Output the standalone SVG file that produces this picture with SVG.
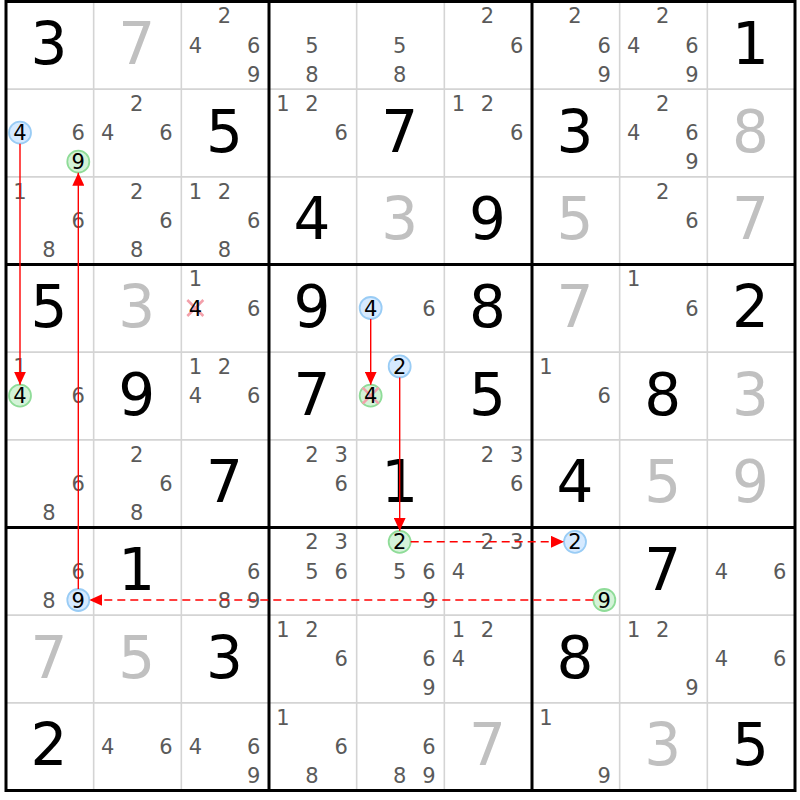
<svg xmlns="http://www.w3.org/2000/svg" width="800" height="800" viewBox="0 0 800 800">
<style>
text{font-family:"DejaVu Sans","Liberation Sans",sans-serif}
.g{font-size:58px;fill:#000;text-anchor:middle}
.s{font-size:58px;fill:#c0c0c0;text-anchor:middle}
.c{font-size:21px;fill:#5a5a5a;text-anchor:middle}
.k{font-size:21px;fill:#000;text-anchor:middle}
.thin{stroke:#d4d4d4;stroke-width:1.6;fill:none}
.thick{stroke:#000;stroke-width:3;fill:none}
.cb{fill:#d6eaff;stroke:#99ccf5;stroke-width:1.8}
.cg{fill:#d4f3d8;stroke:#8fdc98;stroke-width:1.8}
.x{stroke:#f3a0aa;stroke-width:2.6}
.ln{stroke:#ff0000;stroke-width:1.4;fill:none}
.dash{stroke-dasharray:8,5}
</style>
<defs>
<marker id="ah" markerUnits="userSpaceOnUse" markerWidth="14" markerHeight="12" refX="13" refY="6" orient="auto">
<path d="M0,0 L13,6 L0,12 z" fill="#ff0000"/>
</marker>
</defs>
<rect x="0" y="0" width="800" height="800" fill="#fff"/>
<g id="grid">
<path class="thin" d="M93.67,1.5V790.5M181.33,1.5V790.5M356.67,1.5V790.5M444.33,1.5V790.5M619.67,1.5V790.5M707.33,1.5V790.5M6,89.17H795M6,176.83H795M6,352.17H795M6,439.83H795M6,615.17H795M6,702.83H795"/>
<path class="thick" d="M269,1.5V790.5M532,1.5V790.5M6,264.5H795M6,527.5H795"/>
<rect class="thick" x="6" y="1.5" width="789" height="789"/>
</g>
<g id="cells">
<!-- row 0 -->
<g id="r0c0" transform="translate(6,1.5)"><text class="g" x="43" y="62.5">3</text></g>
<g id="r0c1" transform="translate(93.67,1.5)"><text class="s" x="43" y="62.5">7</text></g>
<g id="r0c2" transform="translate(181.33,1.5)"><text class="c" x="43" y="21.8">2</text><text class="c" x="14" y="51">4</text><text class="c" x="72.3" y="51">6</text><text class="c" x="72.3" y="80">9</text></g>
<g id="r0c3" transform="translate(269,1.5)"><text class="c" x="43" y="51">5</text><text class="c" x="43" y="80">8</text></g>
<g id="r0c4" transform="translate(356.67,1.5)"><text class="c" x="43" y="51">5</text><text class="c" x="43" y="80">8</text></g>
<g id="r0c5" transform="translate(444.33,1.5)"><text class="c" x="43" y="21.8">2</text><text class="c" x="72.3" y="51">6</text></g>
<g id="r0c6" transform="translate(532,1.5)"><text class="c" x="43" y="21.8">2</text><text class="c" x="72.3" y="51">6</text><text class="c" x="72.3" y="80">9</text></g>
<g id="r0c7" transform="translate(619.67,1.5)"><text class="c" x="43" y="21.8">2</text><text class="c" x="14" y="51">4</text><text class="c" x="72.3" y="51">6</text><text class="c" x="72.3" y="80">9</text></g>
<g id="r0c8" transform="translate(707.33,1.5)"><text class="g" x="43" y="62.5">1</text></g>
<!-- row 1 -->
<g id="r1c0" transform="translate(6,89.17)"><circle class="cb" cx="14" cy="43.5" r="11"/><text class="k" x="14" y="51">4</text><text class="c" x="72.3" y="51">6</text><circle class="cg" cx="72.3" cy="72.5" r="11"/><text class="k" x="72.3" y="80">9</text></g>
<g id="r1c1" transform="translate(93.67,89.17)"><text class="c" x="43" y="21.8">2</text><text class="c" x="14" y="51">4</text><text class="c" x="72.3" y="51">6</text></g>
<g id="r1c2" transform="translate(181.33,89.17)"><text class="g" x="43" y="62.5">5</text></g>
<g id="r1c3" transform="translate(269,89.17)"><text class="c" x="14" y="21.8">1</text><text class="c" x="43" y="21.8">2</text><text class="c" x="72.3" y="51">6</text></g>
<g id="r1c4" transform="translate(356.67,89.17)"><text class="g" x="43" y="62.5">7</text></g>
<g id="r1c5" transform="translate(444.33,89.17)"><text class="c" x="14" y="21.8">1</text><text class="c" x="43" y="21.8">2</text><text class="c" x="72.3" y="51">6</text></g>
<g id="r1c6" transform="translate(532,89.17)"><text class="g" x="43" y="62.5">3</text></g>
<g id="r1c7" transform="translate(619.67,89.17)"><text class="c" x="43" y="21.8">2</text><text class="c" x="14" y="51">4</text><text class="c" x="72.3" y="51">6</text><text class="c" x="72.3" y="80">9</text></g>
<g id="r1c8" transform="translate(707.33,89.17)"><text class="s" x="43" y="62.5">8</text></g>
<!-- row 2 -->
<g id="r2c0" transform="translate(6,176.83)"><text class="c" x="14" y="21.8">1</text><text class="c" x="72.3" y="51">6</text><text class="c" x="43" y="80">8</text></g>
<g id="r2c1" transform="translate(93.67,176.83)"><text class="c" x="43" y="21.8">2</text><text class="c" x="72.3" y="51">6</text><text class="c" x="43" y="80">8</text></g>
<g id="r2c2" transform="translate(181.33,176.83)"><text class="c" x="14" y="21.8">1</text><text class="c" x="43" y="21.8">2</text><text class="c" x="72.3" y="51">6</text><text class="c" x="43" y="80">8</text></g>
<g id="r2c3" transform="translate(269,176.83)"><text class="g" x="43" y="62.5">4</text></g>
<g id="r2c4" transform="translate(356.67,176.83)"><text class="s" x="43" y="62.5">3</text></g>
<g id="r2c5" transform="translate(444.33,176.83)"><text class="g" x="43" y="62.5">9</text></g>
<g id="r2c6" transform="translate(532,176.83)"><text class="s" x="43" y="62.5">5</text></g>
<g id="r2c7" transform="translate(619.67,176.83)"><text class="c" x="43" y="21.8">2</text><text class="c" x="72.3" y="51">6</text></g>
<g id="r2c8" transform="translate(707.33,176.83)"><text class="s" x="43" y="62.5">7</text></g>
<!-- row 3 -->
<g id="r3c0" transform="translate(6,264.5)"><text class="g" x="43" y="62.5">5</text></g>
<g id="r3c1" transform="translate(93.67,264.5)"><text class="s" x="43" y="62.5">3</text></g>
<g id="r3c2" transform="translate(181.33,264.5)"><text class="c" x="14" y="21.8">1</text><path class="x" d="M6,35.5L22,51.5M22,35.5L6,51.5"/><text class="k" x="14" y="51">4</text><text class="c" x="72.3" y="51">6</text></g>
<g id="r3c3" transform="translate(269,264.5)"><text class="g" x="43" y="62.5">9</text></g>
<g id="r3c4" transform="translate(356.67,264.5)"><circle class="cb" cx="14" cy="43.5" r="11"/><text class="k" x="14" y="51">4</text><text class="c" x="72.3" y="51">6</text></g>
<g id="r3c5" transform="translate(444.33,264.5)"><text class="g" x="43" y="62.5">8</text></g>
<g id="r3c6" transform="translate(532,264.5)"><text class="s" x="43" y="62.5">7</text></g>
<g id="r3c7" transform="translate(619.67,264.5)"><text class="c" x="14" y="21.8">1</text><text class="c" x="72.3" y="51">6</text></g>
<g id="r3c8" transform="translate(707.33,264.5)"><text class="g" x="43" y="62.5">2</text></g>
<!-- row 4 -->
<g id="r4c0" transform="translate(6,352.17)"><text class="c" x="14" y="21.8">1</text><circle class="cg" cx="14" cy="43.5" r="11"/><text class="k" x="14" y="51">4</text><text class="c" x="72.3" y="51">6</text></g>
<g id="r4c1" transform="translate(93.67,352.17)"><text class="g" x="43" y="62.5">9</text></g>
<g id="r4c2" transform="translate(181.33,352.17)"><text class="c" x="14" y="21.8">1</text><text class="c" x="43" y="21.8">2</text><text class="c" x="14" y="51">4</text><text class="c" x="72.3" y="51">6</text></g>
<g id="r4c3" transform="translate(269,352.17)"><text class="g" x="43" y="62.5">7</text></g>
<g id="r4c4" transform="translate(356.67,352.17)"><circle class="cb" cx="43" cy="14.3" r="11"/><text class="k" x="43" y="21.8">2</text><circle class="cg" cx="14" cy="43.5" r="11"/><path class="x" d="M6,35.5L22,51.5M22,35.5L6,51.5"/><text class="k" x="14" y="51">4</text></g>
<g id="r4c5" transform="translate(444.33,352.17)"><text class="g" x="43" y="62.5">5</text></g>
<g id="r4c6" transform="translate(532,352.17)"><text class="c" x="14" y="21.8">1</text><text class="c" x="72.3" y="51">6</text></g>
<g id="r4c7" transform="translate(619.67,352.17)"><text class="g" x="43" y="62.5">8</text></g>
<g id="r4c8" transform="translate(707.33,352.17)"><text class="s" x="43" y="62.5">3</text></g>
<!-- row 5 -->
<g id="r5c0" transform="translate(6,439.83)"><text class="c" x="72.3" y="51">6</text><text class="c" x="43" y="80">8</text></g>
<g id="r5c1" transform="translate(93.67,439.83)"><text class="c" x="43" y="21.8">2</text><text class="c" x="72.3" y="51">6</text><text class="c" x="43" y="80">8</text></g>
<g id="r5c2" transform="translate(181.33,439.83)"><text class="g" x="43" y="62.5">7</text></g>
<g id="r5c3" transform="translate(269,439.83)"><text class="c" x="43" y="21.8">2</text><text class="c" x="72.3" y="21.8">3</text><text class="c" x="72.3" y="51">6</text></g>
<g id="r5c4" transform="translate(356.67,439.83)"><text class="g" x="43" y="62.5">1</text></g>
<g id="r5c5" transform="translate(444.33,439.83)"><text class="c" x="43" y="21.8">2</text><text class="c" x="72.3" y="21.8">3</text><text class="c" x="72.3" y="51">6</text></g>
<g id="r5c6" transform="translate(532,439.83)"><text class="g" x="43" y="62.5">4</text></g>
<g id="r5c7" transform="translate(619.67,439.83)"><text class="s" x="43" y="62.5">5</text></g>
<g id="r5c8" transform="translate(707.33,439.83)"><text class="s" x="43" y="62.5">9</text></g>
<!-- row 6 -->
<g id="r6c0" transform="translate(6,527.5)"><text class="c" x="72.3" y="51">6</text><text class="c" x="43" y="80">8</text><circle class="cb" cx="72.3" cy="72.5" r="11"/><text class="k" x="72.3" y="80">9</text></g>
<g id="r6c1" transform="translate(93.67,527.5)"><text class="g" x="43" y="62.5">1</text></g>
<g id="r6c2" transform="translate(181.33,527.5)"><text class="c" x="72.3" y="51">6</text><text class="c" x="43" y="80">8</text><text class="c" x="72.3" y="80">9</text></g>
<g id="r6c3" transform="translate(269,527.5)"><text class="c" x="43" y="21.8">2</text><text class="c" x="72.3" y="21.8">3</text><text class="c" x="43" y="51">5</text><text class="c" x="72.3" y="51">6</text></g>
<g id="r6c4" transform="translate(356.67,527.5)"><circle class="cg" cx="43" cy="14.3" r="11"/><text class="k" x="43" y="21.8">2</text><text class="c" x="43" y="51">5</text><text class="c" x="72.3" y="51">6</text><text class="c" x="72.3" y="80">9</text></g>
<g id="r6c5" transform="translate(444.33,527.5)"><text class="c" x="43" y="21.8">2</text><text class="c" x="72.3" y="21.8">3</text><text class="c" x="14" y="51">4</text></g>
<g id="r6c6" transform="translate(532,527.5)"><circle class="cb" cx="43" cy="14.3" r="11"/><text class="k" x="43" y="21.8">2</text><circle class="cg" cx="72.3" cy="72.5" r="11"/><text class="k" x="72.3" y="80">9</text></g>
<g id="r6c7" transform="translate(619.67,527.5)"><text class="g" x="43" y="62.5">7</text></g>
<g id="r6c8" transform="translate(707.33,527.5)"><text class="c" x="14" y="51">4</text><text class="c" x="72.3" y="51">6</text></g>
<!-- row 7 -->
<g id="r7c0" transform="translate(6,615.17)"><text class="s" x="43" y="62.5">7</text></g>
<g id="r7c1" transform="translate(93.67,615.17)"><text class="s" x="43" y="62.5">5</text></g>
<g id="r7c2" transform="translate(181.33,615.17)"><text class="g" x="43" y="62.5">3</text></g>
<g id="r7c3" transform="translate(269,615.17)"><text class="c" x="14" y="21.8">1</text><text class="c" x="43" y="21.8">2</text><text class="c" x="72.3" y="51">6</text></g>
<g id="r7c4" transform="translate(356.67,615.17)"><text class="c" x="72.3" y="51">6</text><text class="c" x="72.3" y="80">9</text></g>
<g id="r7c5" transform="translate(444.33,615.17)"><text class="c" x="14" y="21.8">1</text><text class="c" x="43" y="21.8">2</text><text class="c" x="14" y="51">4</text></g>
<g id="r7c6" transform="translate(532,615.17)"><text class="g" x="43" y="62.5">8</text></g>
<g id="r7c7" transform="translate(619.67,615.17)"><text class="c" x="14" y="21.8">1</text><text class="c" x="43" y="21.8">2</text><text class="c" x="72.3" y="80">9</text></g>
<g id="r7c8" transform="translate(707.33,615.17)"><text class="c" x="14" y="51">4</text><text class="c" x="72.3" y="51">6</text></g>
<!-- row 8 -->
<g id="r8c0" transform="translate(6,702.83)"><text class="g" x="43" y="62.5">2</text></g>
<g id="r8c1" transform="translate(93.67,702.83)"><text class="c" x="14" y="51">4</text><text class="c" x="72.3" y="51">6</text></g>
<g id="r8c2" transform="translate(181.33,702.83)"><text class="c" x="14" y="51">4</text><text class="c" x="72.3" y="51">6</text><text class="c" x="72.3" y="80">9</text></g>
<g id="r8c3" transform="translate(269,702.83)"><text class="c" x="14" y="21.8">1</text><text class="c" x="72.3" y="51">6</text><text class="c" x="43" y="80">8</text></g>
<g id="r8c4" transform="translate(356.67,702.83)"><text class="c" x="72.3" y="51">6</text><text class="c" x="43" y="80">8</text><text class="c" x="72.3" y="80">9</text></g>
<g id="r8c5" transform="translate(444.33,702.83)"><text class="s" x="43" y="62.5">7</text></g>
<g id="r8c6" transform="translate(532,702.83)"><text class="c" x="14" y="21.8">1</text><text class="c" x="72.3" y="80">9</text></g>
<g id="r8c7" transform="translate(619.67,702.83)"><text class="s" x="43" y="62.5">3</text></g>
<g id="r8c8" transform="translate(707.33,702.83)"><text class="g" x="43" y="62.5">5</text></g>
</g>
<g id="connectors">
<line class="ln" x1="20" y1="143.7" x2="20" y2="384.7" marker-end="url(#ah)"/>
<line class="ln" x1="78.3" y1="589" x2="78.3" y2="172.7" marker-end="url(#ah)"/>
<line class="ln" x1="370.7" y1="319" x2="370.7" y2="384.7" marker-end="url(#ah)"/>
<line class="ln" x1="399.7" y1="377.5" x2="399.7" y2="530.8" marker-end="url(#ah)"/>
<line class="ln dash" x1="410.7" y1="541.8" x2="564" y2="541.8" marker-end="url(#ah)"/>
<line class="ln dash" x1="593.3" y1="600" x2="89.3" y2="600" marker-end="url(#ah)"/>
</g>
</svg>
